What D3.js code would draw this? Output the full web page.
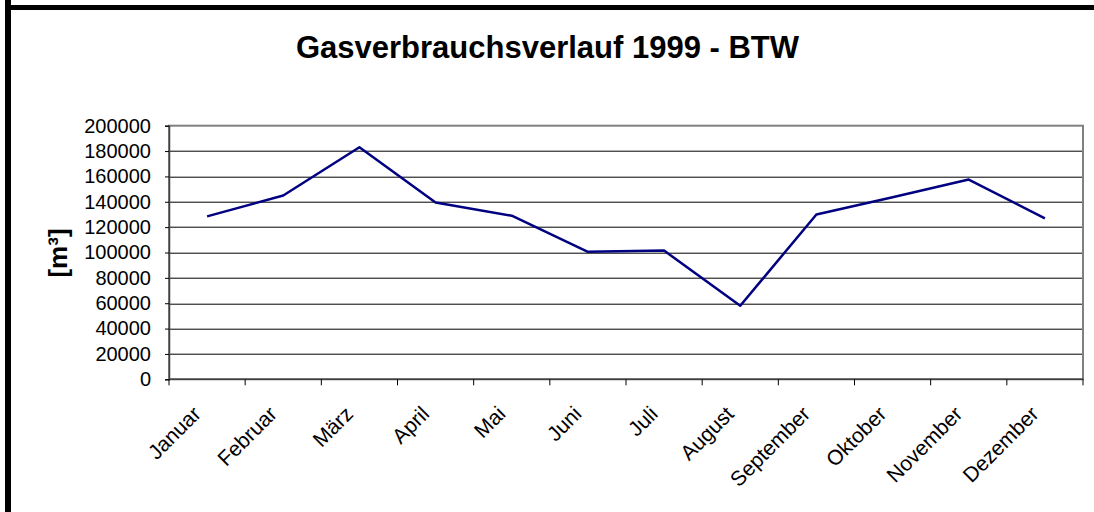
<!DOCTYPE html>
<html>
<head>
<meta charset="utf-8">
<script src="https://cdn.jsdelivr.net/npm/d3@7"></script>
<style>
  html, body { margin: 0; padding: 0; background: #fff; overflow: hidden; }
  svg { display: block; overflow: hidden; font-family: "Liberation Sans", Arial, sans-serif; }
</style>
</head>
<body>
<div id="chart"></div>
<script>
"use strict";

// data
const months = ["Januar", "Februar", "März", "April", "Mai", "Juni", "Juli",
                "August", "September", "Oktober", "November", "Dezember"];
const verbrauch = [128500, 145000, 183000, 139500, 129000, 100500, 101500,
                   58000, 130000, 143500, 157500, 127000];
const yTicks = [0, 20000, 40000, 60000, 80000, 100000, 120000, 140000, 160000, 180000, 200000];
const title = "Gasverbrauchsverlauf 1999 - BTW";
const yLabel = "[m³]";

// set the dimensions and margins of the graph
const W = 1094, H = 512;
const margin = {top: 125.7, right: 11, bottom: 132.7, left: 169},
      width = W - margin.left - margin.right,
      height = H - margin.top - margin.bottom;

const svg = d3.select("#chart")
  .append("svg")
  .attr("width", W)
  .attr("height", H);

// outer frame (only left and top edges are inside the picture)
svg.append("rect")
  .attr("x", 5).attr("y", 0)
  .attr("width", 6).attr("height", H)
  .attr("fill", "#000");
svg.append("rect")
  .attr("x", 5).attr("y", 5)
  .attr("width", W - 5).attr("height", 5)
  .attr("fill", "#000");

svg.append("text")
  .attr("x", 547.5)
  .attr("y", 58)
  .attr("text-anchor", "middle")
  .attr("font-size", "31px")
  .attr("font-weight", "bold")
  .text(title);

const g = svg.append("g")
  .attr("transform", "translate(" + margin.left + "," + margin.top + ")");

const x = d3.scaleBand()
  .domain(months)
  .range([0, width]);

const y = d3.scaleLinear()
  .domain([0, 200000])
  .range([height, 0]);

// gridlines
g.append("g")
  .selectAll("line")
  .data(yTicks.slice(1, -1))
  .join("line")
  .attr("x1", 0)
  .attr("x2", width)
  .attr("y1", d => Math.round(y(d)) + 0.5)
  .attr("y2", d => Math.round(y(d)) + 0.5)
  .attr("stroke", "#000")
  .attr("stroke-width", 1);

// plot area border
g.append("rect")
  .attr("x", 0)
  .attr("y", 0)
  .attr("width", width)
  .attr("height", height)
  .attr("fill", "none")
  .attr("stroke", "#808080")
  .attr("stroke-width", 2);

// Y axis
const yAxis = g.append("g")
  .call(d3.axisLeft(y)
    .tickValues(yTicks)
    .tickSize(4)
    .tickPadding(14)
    .tickFormat(d3.format("d")));
yAxis.select(".domain").attr("stroke", "#404040").attr("stroke-width", 1.5);
yAxis.selectAll(".tick line").attr("stroke", "#000");
yAxis.selectAll("text")
  .attr("font-size", "20px")
  .attr("font-family", "Liberation Sans, Arial, sans-serif")
  .attr("fill", "#000");

// X axis, ticks at category borders
const xAxis = g.append("g")
  .attr("transform", "translate(0," + height + ")");
xAxis.append("line")
  .attr("x1", 0)
  .attr("x2", width)
  .attr("stroke", "#404040")
  .attr("stroke-width", 1.5);
xAxis.selectAll(".xtick")
  .data(months.concat(["_end"]))
  .join("line")
  .attr("class", "xtick")
  .attr("x1", (d, i) => i < months.length ? x(d) : width)
  .attr("x2", (d, i) => i < months.length ? x(d) : width)
  .attr("y1", 0)
  .attr("y2", 6)
  .attr("stroke", "#000");
xAxis.selectAll(".xlabel")
  .data(months)
  .join("text")
  .attr("class", "xlabel")
  .attr("text-anchor", "end")
  .attr("font-size", "21px")
  .attr("transform", d => "translate(" + (x(d) + x.bandwidth() / 2 - 5) + ",36) rotate(-45)")
  .text(d => d);

// the line
g.append("path")
  .datum(verbrauch)
  .attr("fill", "none")
  .attr("stroke", "#000080")
  .attr("stroke-width", 2.5)
  .attr("stroke-linejoin", "round")
  .attr("d", d3.line()
    .x((d, i) => x(months[i]) + x.bandwidth() / 2)
    .y(d => y(d)));

// Y axis label
svg.append("text")
  .attr("text-anchor", "middle")
  .attr("transform", "translate(67,253) rotate(-90)")
  .attr("font-size", "26px")
  .attr("font-weight", "bold")
  .text(yLabel);
</script>
</body>
</html>
